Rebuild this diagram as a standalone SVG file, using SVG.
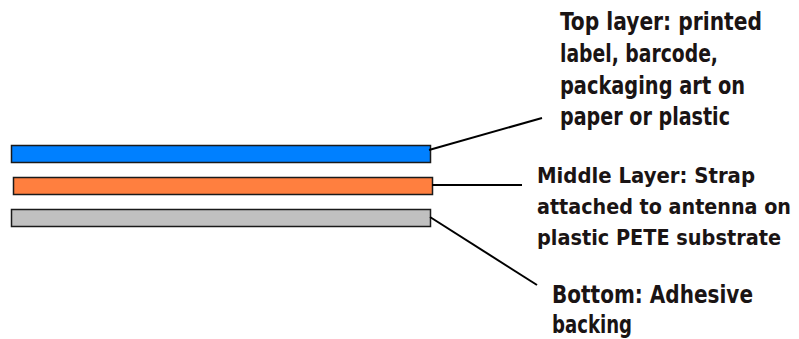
<svg xmlns="http://www.w3.org/2000/svg" width="799" height="339" viewBox="0 0 799 339">
<style>
.lbl{font-family:"DejaVu Sans Condensed","DejaVu Sans","Liberation Sans",sans-serif;font-stretch:condensed;font-weight:bold;font-size:24px;fill:#1a1414}
.mid{font-size:22px}
.layer{stroke:#1a1a1a;stroke-width:1.5}
.conn{stroke:#000;stroke-width:2;fill:none}
</style>
<rect width="799" height="339" fill="#fff"/>
<g id="top-layer"><rect class="layer" x="11.5" y="145.5" width="419" height="17" fill="#0080ff"/>
<text class="lbl"><tspan x="560" y="30" textLength="202" lengthAdjust="spacingAndGlyphs">Top layer: printed</tspan><tspan x="560" y="62" textLength="158" lengthAdjust="spacingAndGlyphs">label, barcode,</tspan><tspan x="560" y="94" textLength="185" lengthAdjust="spacingAndGlyphs">packaging art on</tspan><tspan x="560" y="125" textLength="170" lengthAdjust="spacingAndGlyphs">paper or plastic</tspan></text></g>
<g id="middle-layer"><rect class="layer" x="13.5" y="177.5" width="419" height="17" fill="#ff7f3f"/>
<text class="lbl mid"><tspan x="537" y="183" textLength="218" lengthAdjust="spacingAndGlyphs">Middle Layer: Strap</tspan><tspan x="537" y="214" textLength="254" lengthAdjust="spacingAndGlyphs">attached to antenna on</tspan><tspan x="537" y="245" textLength="244" lengthAdjust="spacingAndGlyphs">plastic PETE substrate</tspan></text></g>
<g id="bottom-layer"><rect class="layer" x="11.5" y="209.5" width="419" height="17" fill="#c0c0c0"/>
<text class="lbl"><tspan x="552" y="303" textLength="201" lengthAdjust="spacingAndGlyphs">Bottom: Adhesive</tspan><tspan x="552" y="333" textLength="80" lengthAdjust="spacingAndGlyphs">backing</tspan></text></g>
<g id="connectors">
<line class="conn" x1="429" y1="150" x2="542" y2="118"/>
<line class="conn" x1="432" y1="185" x2="522" y2="185"/>
<line class="conn" x1="430" y1="217" x2="537" y2="285"/>
</g>
</svg>
